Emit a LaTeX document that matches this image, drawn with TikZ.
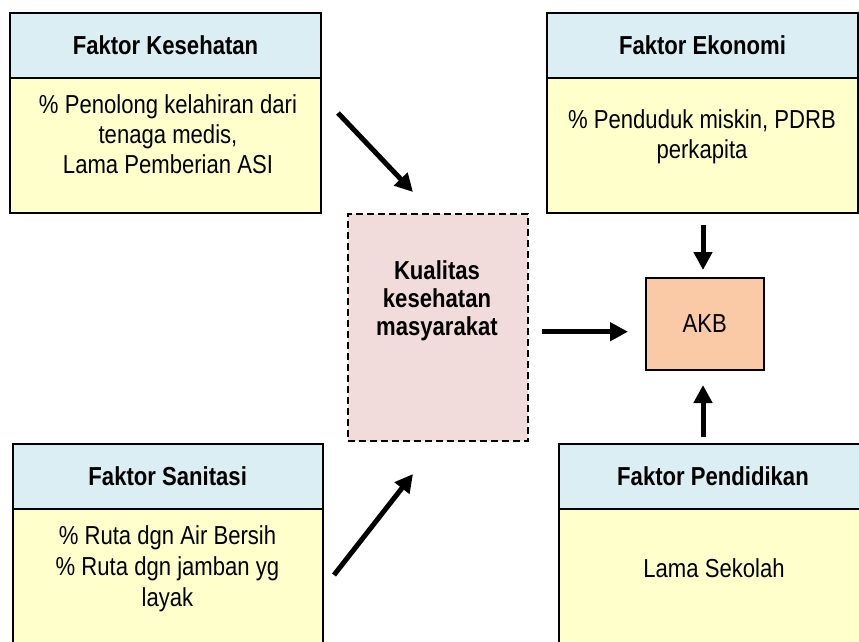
\documentclass[tikz,border=0pt]{standalone}
\usepackage{fontspec}
\setmainfont{Liberation Sans}[FakeStretch=0.85]
\usetikzlibrary{arrows.meta}
\definecolor{hdrblue}{HTML}{DAEEF3}
\definecolor{bodyyel}{HTML}{FFFFCC}
\definecolor{kualpink}{HTML}{F2DCDB}
\definecolor{akbpeach}{HTML}{FAC9A6}
\tikzset{
  boxline/.style={draw=black, line width=1.6pt, inner sep=0pt, outer sep=0pt, anchor=north west},
  hdr/.style={boxline, fill=hdrblue, font=\bfseries\fontsize{26}{30}\selectfont},
  bodybox/.style={boxline, fill=bodyyel},
  bodytext/.style={align=center, font=\fontsize{26}{30}\selectfont, inner sep=0pt},
  arr/.style={line width=5pt, -{Triangle[length=18pt,width=18pt]}},
}
\begin{document}
\begin{tikzpicture}[x=1pt,y=-1pt]
\useasboundingbox (0,0) rectangle (859,641);
\fill[white] (0,0) rectangle (859,641);
\clip (0,0) rectangle (859,641);
% Faktor Kesehatan
\node[bodybox, minimum width=311pt, minimum height=135pt] (kesB) at (10,78) {};
\node[hdr, minimum width=311pt, minimum height=65pt] (kesH) at (10,13) {Faktor Kesehatan};
\node[bodytext] (kesT) at (168,134) {\% Penolong kelahiran dari\\tenaga medis,\\Lama Pemberian ASI};
% Faktor Ekonomi
\node[bodybox, minimum width=311pt, minimum height=135pt] (ekoB) at (547,78) {};
\node[hdr, minimum width=311pt, minimum height=65pt] (ekoH) at (547,13) {Faktor Ekonomi};
\node[bodytext] (ekoT) at (702,137) {\% Penduduk miskin, PDRB\\perkapita};
% Faktor Sanitasi
\node[bodybox, minimum width=310pt, minimum height=160pt] (sanB) at (12.7,509) {};
\node[hdr, minimum width=310pt, minimum height=65pt] (sanH) at (12.7,444) {Faktor Sanitasi};
\node[bodytext, font=\fontsize{26}{31}\selectfont] (sanT) at (167.5,569) {\% Ruta dgn Air Bersih\\\% Ruta dgn jamban yg\\layak};
% Faktor Pendidikan
\node[bodybox, minimum width=308pt, minimum height=160pt] (penB) at (559,509) {};
\node[hdr, minimum width=308pt, minimum height=65pt] (penH) at (559,444) {Faktor Pendidikan};
\node[bodytext] (penT) at (714,568) {Lama Sekolah};
% Kualitas
\node[draw=black, line width=1.6pt, dash pattern=on 7pt off 4pt, fill=kualpink, minimum width=180pt, minimum height=227pt, anchor=north west, inner sep=0pt] (kual) at (347,213) {};
\node[align=center, inner sep=0pt, font=\bfseries\fontsize{26}{28}\selectfont] (kualT) at (437,301) {Kualitas\\kesehatan\\masyarakat};
% AKB
\node[draw=black, line width=1.6pt, fill=akbpeach, minimum width=118pt, minimum height=92pt, anchor=north west, inner sep=0pt, font=\fontsize{26}{30}\selectfont] (akb) at (645,277) {AKB};
% arrows
\coordinate (a1s) at (338,113);
\coordinate (a1e) at (413,192);
\coordinate (a2s) at (334,575);
\coordinate (a2e) at (413,474);
\coordinate (a3s) at (541.7,331.7);
\coordinate (a3e) at (628,331.7);
\coordinate (a4s) at (703,225);
\coordinate (a4e) at (703,270);
\coordinate (a5s) at (703,437);
\coordinate (a5e) at (703,385);
\draw[arr] (a1s) -- (a1e);
\draw[arr] (a2s) -- (a2e);
\draw[arr] (a3s) -- (a3e);
\draw[arr] (a4s) -- (a4e);
\draw[arr] (a5s) -- (a5e);
\end{tikzpicture}
\end{document}
